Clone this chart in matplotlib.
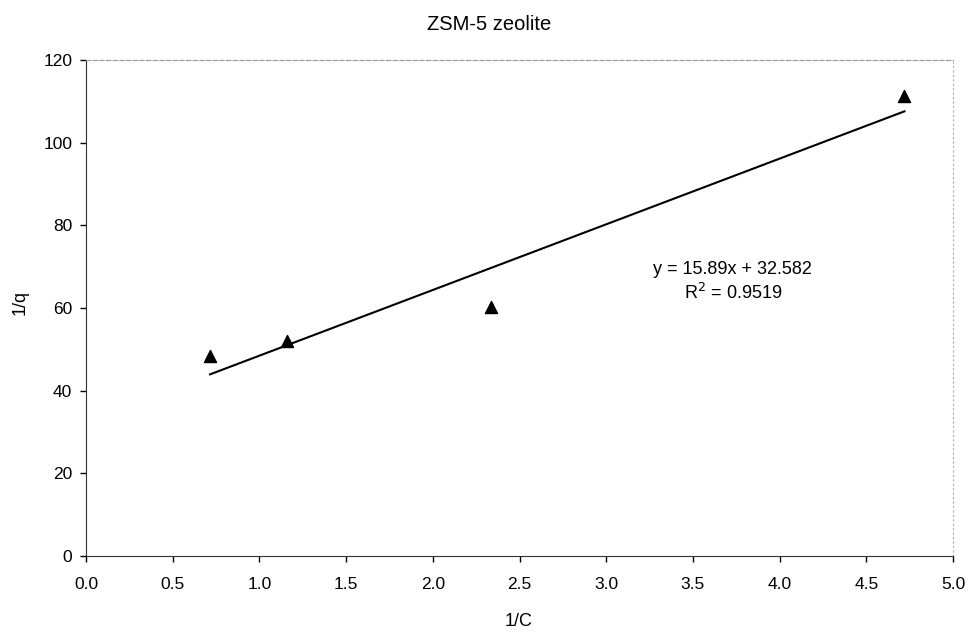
import matplotlib
matplotlib.use("Agg")
import matplotlib.pyplot as plt
import numpy as np

# Langmuir linearised data
inv_c = [0.715, 1.157, 2.334, 4.72]
inv_q = [48.4, 52.1, 60.2, 111.3]

# trend line from the chart label
slope = 15.89
intercept = 32.582
r_squared = 0.9519

plt.rcParams["font.family"] = ["Liberation Sans", "DejaVu Sans"]

fig = plt.figure(figsize=(9.69, 6.35), dpi=100)
ax = fig.add_axes([0.0888, 0.1244, 0.8947, 0.7811])

# trend line across the data range
x_fit = np.array([min(inv_c), max(inv_c)])
ax.plot(x_fit, slope * x_fit + intercept, color="black", lw=1.5)

ax.scatter(inv_c, inv_q, marker="^", s=75, color="black", zorder=3)

ax.set_xlim(0, 5)
ax.set_ylim(0, 120)
ax.set_xticks(np.arange(0, 5.01, 0.5))
ax.set_xticklabels([f"{v:.1f}" for v in np.arange(0, 5.01, 0.5)])
ax.set_yticks(range(0, 121, 20))

ax.tick_params(direction="out", length=4, width=1, labelsize=12.5)
ax.tick_params(axis="x", pad=11)
ax.tick_params(axis="y", pad=6)

ax.spines["left"].set_color("#333333")
ax.spines["bottom"].set_color("#333333")
ax.spines["top"].set_color("#999999")
ax.spines["top"].set_linestyle((0, (4, 2)))
ax.spines["right"].set_color("#aaaaaa")
ax.spines["right"].set_linestyle((0, (1, 3)))

ax.text(3.73, 66.3, f"y = {slope}x + {intercept}\nR$^2$ = {r_squared}",
        ha="center", va="center", fontsize=13, linespacing=1.25)

fig.text(0.505, 0.962, "ZSM-5 zeolite", ha="center", va="center", fontsize=14.5)
fig.text(0.535, 0.022, "1/C", ha="center", va="center", fontsize=13)
fig.text(0.021, 0.523, "1/q", ha="center", va="center", fontsize=13, rotation=90)

plt.savefig("out.png", dpi=100)
plt.close()
